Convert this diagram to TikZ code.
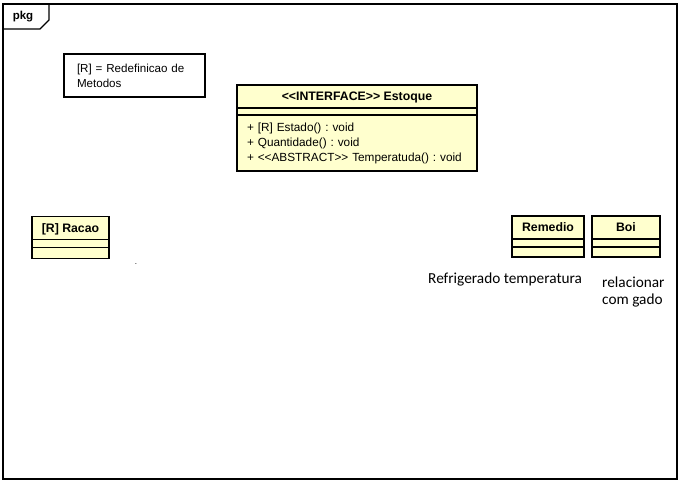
\documentclass[tikz,border=0pt]{standalone}
\usepackage{fontspec}
\setmainfont{Liberation Sans}
\newfontfamily\notefont{Carlito}
\usetikzlibrary{positioning}
\definecolor{umlyellow}{RGB}{255,255,206}
\frenchspacing

\begin{document}
\begin{tikzpicture}[x=1pt,y=-1pt,
  classhead/.style={draw,line width=1.6pt,fill=umlyellow,inner sep=0pt,outer sep=0pt,
    minimum height=23pt,text depth=0pt,font=\bfseries\fontsize{12.3}{14}\selectfont},
  compart/.style={draw,line width=1.6pt,fill=umlyellow,inner sep=0pt,outer sep=0pt,minimum height=8pt},
  notebox/.style={draw,line width=1.6pt,inner sep=0pt,outer sep=0pt,text width=115pt,
    minimum width=141pt,minimum height=43pt,align=left,font=\fontsize{11.6}{15}\selectfont},
  remark/.style={font=\notefont\fontsize{15.3}{16.5}\selectfont,inner sep=0pt,align=left}]
  \useasboundingbox (0,0) rectangle (682,484);
  % package frame
  \draw[line width=1.2pt] (3,4) rectangle (677,479);
  \draw[line width=1.2pt] (3,29) -- (40,29) -- (49,20) -- (49,4);
  \node[font=\bfseries\fontsize{11.5}{12}\selectfont] (pkg) at (23,17) {pkg};
  % note
  \node[notebox] (note) at (134.5,75.5) {[R] = Redefinicao de\\Metodos};
  % interface
  \node[classhead,minimum width=240pt] (estoque) at (357,96.5) {<{}<INTERFACE>{}> Estoque};
  \node[compart,minimum width=240pt,minimum height=7pt,below=0pt of estoque] (estoqueattr) {};
  \node[compart,minimum width=240pt,minimum height=56pt,below=0pt of estoqueattr,
    text width=220pt,align=left,font=\fontsize{11.8}{15}\selectfont] (estoqueops)
    {+ [R] Estado() : void\\+ Quantidade() : void\\+ <{}<ABSTRACT>{}> Temperatuda() : void};
  % classes
  \node[classhead,minimum width=77pt] (racao) at (70.5,228) {[R] Racao};
  \node[compart,minimum width=77pt,below=0pt of racao] (racaoattr) {};
  \node[compart,minimum width=77pt,minimum height=11pt,below=0pt of racaoattr] (racaoops) {};
  \node[classhead,minimum width=72pt] (remedio) at (548,227.5) {Remedio};
  \node[compart,minimum width=72pt,below=0pt of remedio] (remedioattr) {};
  \node[compart,minimum width=72pt,minimum height=10pt,below=0pt of remedioattr] (remedioops) {};
  \node[classhead,minimum width=68pt] (boi) at (626,227.5) {Boi};
  \node[compart,minimum width=68pt,below=0pt of boi] (boiattr) {};
  \node[compart,minimum width=68pt,minimum height=10pt,below=0pt of boiattr] (boiops) {};
  % remarks
  \node[remark,anchor=base west] (refrig) at (428,283) {Refrigerado temperatura};
  \node[remark,anchor=north west] (gado) at (602,277) {relacionar\\com gado};
  \node[font=\fontsize{8}{8}\selectfont,inner sep=0pt] (dot) at (136,264) {.};
\end{tikzpicture}
\end{document}
